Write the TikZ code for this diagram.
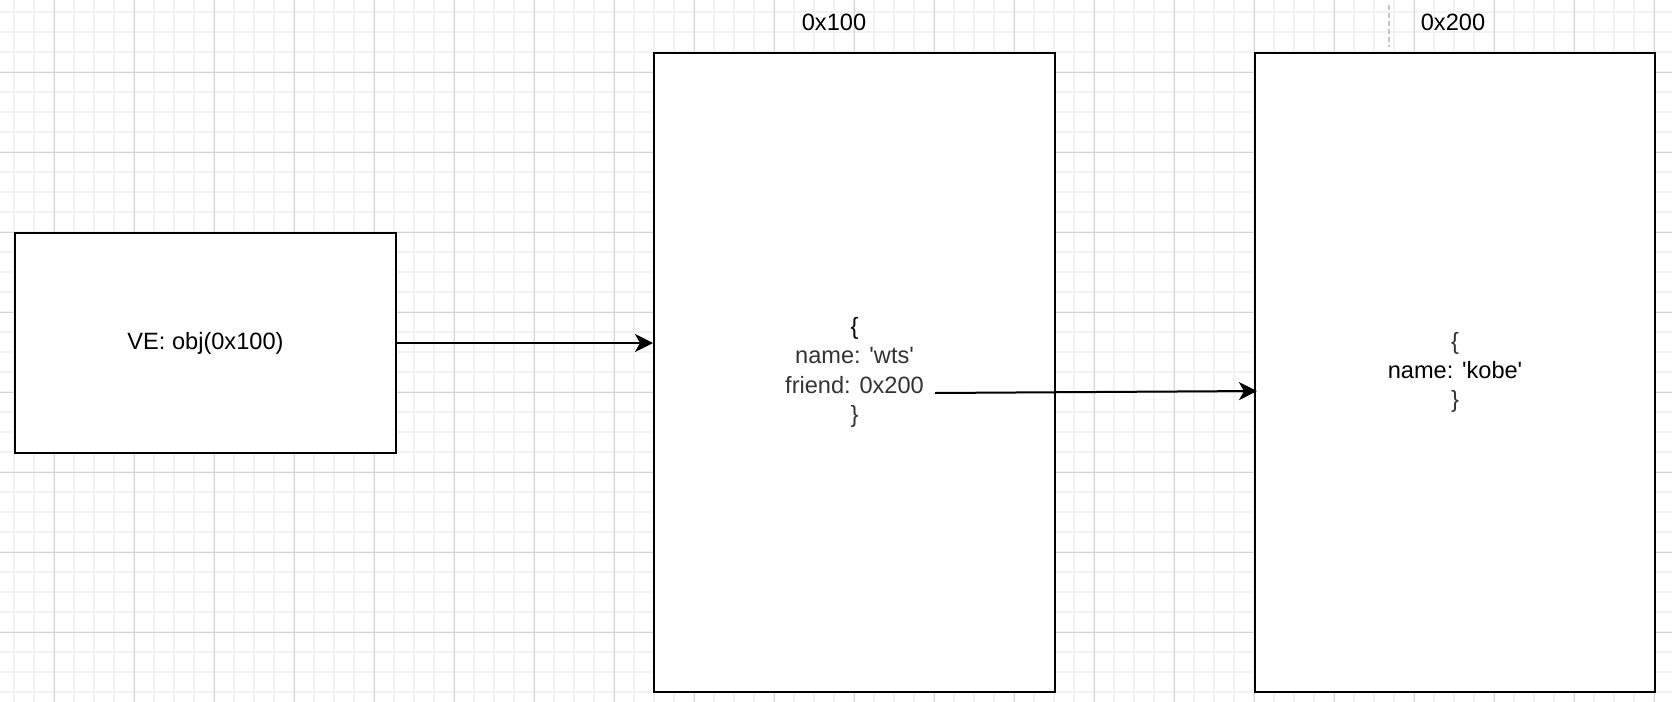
\documentclass[tikz,border=0pt]{standalone}
\usepackage{fontspec}
\setmainfont{Liberation Sans}
\usepackage{xcolor}
\usetikzlibrary{arrows.meta}
\definecolor{minorgrid}{HTML}{F1F1F1}
\definecolor{majorgrid}{HTML}{D4D4D4}
\definecolor{guidegray}{HTML}{C4C4C4}
\definecolor{softtext}{HTML}{333333}
\newcommand{\drawgrid}{\foreach \gx in {14,34,...,1674} \draw[minorgrid, line width=1.3bp] (\gx,0) -- (\gx,702);
					\foreach \gy in {12,32,...,702} \draw[minorgrid, line width=1.3bp] (0,\gy) -- (1672,\gy);
					\foreach \gx in {54,134,...,1654} \draw[majorgrid, line width=0.9bp] (\gx,0) -- (\gx,702);
					\foreach \gy in {72,152,...,632} \draw[majorgrid, line width=0.9bp] (0,\gy) -- (1672,\gy);}
\newcommand{\sq}{\textquotesingle}
\tikzset{membox/.style={draw=black, fill=white, line width=2bp, inner sep=0pt, align=center, font=\fontsize{23.6bp}{29.3bp}\selectfont},
		addrlabel/.style={inner sep=0pt, font=\fontsize{23.6bp}{29.3bp}\selectfont},
		pointer/.style={line width=2bp, -{Stealth[length=18bp, width=18bp, inset=5bp]}}}

\begin{document}
\begin{tikzpicture}[x=1bp, y=-1bp]

					\useasboundingbox (0,0) rectangle (1672,702);
					\fill[white] (0,0) rectangle (1672,702);

					\drawgrid

					\draw[guidegray, line width=1.5bp, dash pattern=on 5bp off 3bp] (1389,5) -- (1389,47);

					\node[membox, minimum width=380bp, minimum height=220bp] (vebox) at (205.5,343) {VE: obj(0x100)};

					\node[membox, minimum width=401bp, minimum height=639bp, text=softtext] (objbox) at (854.5,372.5)
						{{\color{black}\{}\\name: \sq wts\sq\\friend: 0x200\\\}};

					\node[membox, minimum width=400bp, minimum height=639bp, text=softtext] (kobebox) at (1455,372.5)
						{\{\\{\color{black}name: \sq kobe\sq}\\\}};

					\node[addrlabel] (objaddr) at (834,22) {0x100};
					\node[addrlabel] (kobeaddr) at (1453,22) {0x200};

					\coordinate (friendref) at (935,393);

					\draw[pointer] (vebox.east) -- (vebox.east -| objbox.west);
					\draw[pointer] (friendref) -- ([xshift=3bp, yshift=-18.5bp]kobebox.west);

\end{tikzpicture}
\end{document}
